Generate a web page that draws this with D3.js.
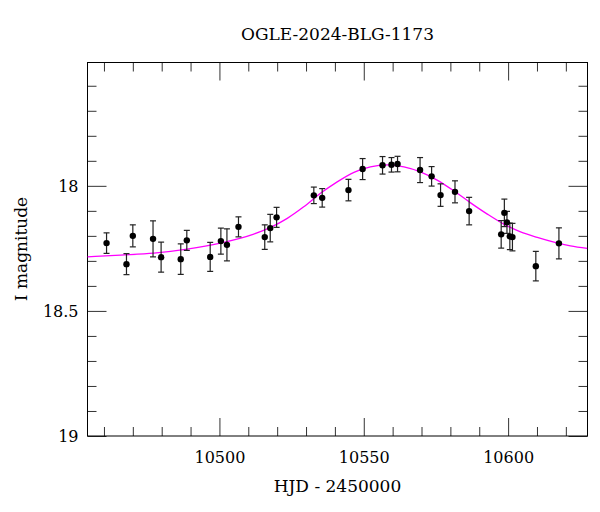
<!DOCTYPE html>
<html>
<head>
<meta charset="utf-8">
<script src="https://cdn.jsdelivr.net/npm/d3@7"></script>
<style>
  html, body { margin: 0; padding: 0; background: #fff; }
  svg { display: block; }
  text { font-family: "DejaVu Serif", "Liberation Serif", serif; fill: #000; }
</style>
</head>
<body>
<svg id="chart" width="600" height="512"></svg>
<script>
// ---- data ----
const title = "OGLE-2024-BLG-1173";
const xLabel = "HJD - 2450000";
const yLabel = "I magnitude";

const hjd = [10460.9, 10467.8, 10470.0, 10477.0, 10479.8, 10486.6, 10488.7, 10496.8, 10500.5, 10502.6,
             10506.6, 10515.7, 10517.6, 10519.8, 10532.7, 10535.6, 10544.7, 10549.6, 10556.5, 10559.6,
             10561.7, 10569.5, 10573.5, 10576.6, 10581.6, 10586.5, 10597.6, 10598.7, 10599.6, 10600.6,
             10601.5, 10609.6, 10617.6];
const mag = [18.229, 18.313, 18.200, 18.212, 18.285, 18.293, 18.218, 18.284, 18.221, 18.236,
             18.164, 18.205, 18.169, 18.126, 18.038, 18.048, 18.017, 17.933, 17.918, 17.916,
             17.913, 17.937, 17.962, 18.037, 18.024, 18.101, 18.194, 18.108, 18.146, 18.202,
             18.205, 18.321, 18.230];
const magErr = [0.041, 0.042, 0.044, 0.072, 0.060, 0.061, 0.040, 0.058, 0.052, 0.064,
                0.040, 0.049, 0.055, 0.040, 0.033, 0.037, 0.043, 0.042, 0.035, 0.029,
                0.031, 0.050, 0.039, 0.045, 0.044, 0.055, 0.055, 0.055, 0.044, 0.053,
                0.055, 0.059, 0.062];

const modelT = [10454.2, 10465.7, 10477.3, 10488.8, 10500.3, 10511.9, 10517.7, 10523.5, 10529.2, 10535.0,
                10540.8, 10546.6, 10552.3, 10558.1, 10563.9, 10569.6, 10575.4, 10581.2, 10587.0, 10592.8,
                10598.5, 10604.3, 10610.1, 10615.9, 10621.6, 10627.4];
const modelMag = [18.284, 18.277, 18.269, 18.253, 18.229, 18.193, 18.166, 18.130, 18.084, 18.030,
                  17.984, 17.946, 17.924, 17.916, 17.924, 17.944, 17.977, 18.020, 18.068, 18.113,
                  18.153, 18.184, 18.206, 18.225, 18.240, 18.250];

const xMajorTicks = [10500, 10550, 10600];
const xMinorTicks = [10460, 10470, 10480, 10490, 10510, 10520, 10530, 10540, 10560, 10570, 10580, 10590, 10610, 10620];
const yMajorTicks = [18, 18.5, 19];
const yMinorTicks = [17.6, 17.7, 17.8, 17.9, 18.1, 18.2, 18.3, 18.4, 18.6, 18.7, 18.8, 18.9];
const yTickLabels = ["18", "18.5", "19"];

// ---- layout ----
const L = 87.5, R = 587.5, T = 62.5, B = 436;
const svg = d3.select("#chart");

const x = d3.scaleLinear().domain([10454.3, 10627.5]).range([L, R]);
const y = d3.scaleLinear().domain([17.507, 19]).range([T, B]);

const tickColor = "#333";

function styleAxis(g) {
  g.select(".domain").remove();
  g.selectAll(".tick line").attr("stroke", tickColor).attr("stroke-width", 1);
}

// bottom axis
svg.append("g").attr("transform", `translate(0,${B})`)
  .call(d3.axisBottom(x).tickValues(xMinorTicks).tickSize(-9).tickFormat(""))
  .call(styleAxis);
const xb = svg.append("g").attr("transform", `translate(0,${B})`)
  .call(d3.axisBottom(x).tickValues(xMajorTicks).tickSize(-18).tickPadding(0).tickFormat(d3.format("d")))
  .call(styleAxis);
xb.selectAll(".tick text")
  .attr("y", 27).attr("dy", 0)
  .style("font-family", "DejaVu Serif").style("font-size", "16px").attr("fill", "#000");

// top axis
svg.append("g").attr("transform", `translate(0,${T})`)
  .call(d3.axisTop(x).tickValues(xMinorTicks).tickSize(-9).tickFormat(""))
  .call(styleAxis);
svg.append("g").attr("transform", `translate(0,${T})`)
  .call(d3.axisTop(x).tickValues(xMajorTicks).tickSize(-18).tickFormat(""))
  .call(styleAxis);

// left axis
svg.append("g").attr("transform", `translate(${L},0)`)
  .call(d3.axisLeft(y).tickValues(yMinorTicks).tickSize(-9).tickFormat(""))
  .call(styleAxis);
const yl = svg.append("g").attr("transform", `translate(${L},0)`)
  .call(d3.axisLeft(y).tickValues(yMajorTicks).tickSize(-19).tickFormat((d, i) => yTickLabels[i]))
  .call(styleAxis);
yl.selectAll(".tick text")
  .attr("x", -9).attr("dy", "0.36em")
  .style("font-family", "DejaVu Serif").style("font-size", "16px").attr("fill", "#000");

// right axis
svg.append("g").attr("transform", `translate(${R},0)`)
  .call(d3.axisRight(y).tickValues(yMinorTicks).tickSize(-9).tickFormat(""))
  .call(styleAxis);
svg.append("g").attr("transform", `translate(${R},0)`)
  .call(d3.axisRight(y).tickValues(yMajorTicks).tickSize(-19).tickFormat(""))
  .call(styleAxis);

// frame
svg.append("rect").attr("x", L).attr("y", T).attr("width", R - L).attr("height", B - T)
  .attr("fill", "none").attr("stroke", "#000").attr("stroke-width", 1);

// clip
svg.append("clipPath").attr("id", "clip").append("rect")
  .attr("x", L).attr("y", T).attr("width", R - L).attr("height", B - T);

// model curve
const pts = modelT.map((t, i) => [t, modelMag[i]]);
const line = d3.line().x(d => x(d[0])).y(d => y(d[1])).curve(d3.curveMonotoneX);
svg.append("path").attr("clip-path", "url(#clip)")
  .attr("d", line(pts)).attr("fill", "none")
  .attr("stroke", "#ff00ff").attr("stroke-width", 1.3);

// data points with error bars
const data = hjd.map((t, i) => ({ t, m: mag[i], e: magErr[i] }));
const eg = svg.append("g").attr("stroke", "#222").attr("stroke-width", 1.2);
data.forEach(d => {
  const cx = x(d.t);
  eg.append("line").attr("x1", cx).attr("x2", cx).attr("y1", y(d.m - d.e)).attr("y2", y(d.m + d.e));
  eg.append("line").attr("x1", cx - 3).attr("x2", cx + 3).attr("y1", y(d.m - d.e)).attr("y2", y(d.m - d.e));
  eg.append("line").attr("x1", cx - 3).attr("x2", cx + 3).attr("y1", y(d.m + d.e)).attr("y2", y(d.m + d.e));
});
svg.append("g").selectAll("circle").data(data).join("circle")
  .attr("cx", d => x(d.t)).attr("cy", d => y(d.m)).attr("r", 3.2).attr("fill", "#000");

// labels
svg.append("text").attr("x", (L + R) / 2).attr("y", 40).attr("text-anchor", "middle")
  .style("font-size", "17px").text(title);
svg.append("text").attr("x", (L + R) / 2).attr("y", 492).attr("text-anchor", "middle")
  .style("font-size", "17px").text(xLabel);
svg.append("text").attr("transform", `translate(27,249) rotate(-90)`).attr("text-anchor", "middle")
  .style("font-size", "17px").text(yLabel);
</script>
</body>
</html>
